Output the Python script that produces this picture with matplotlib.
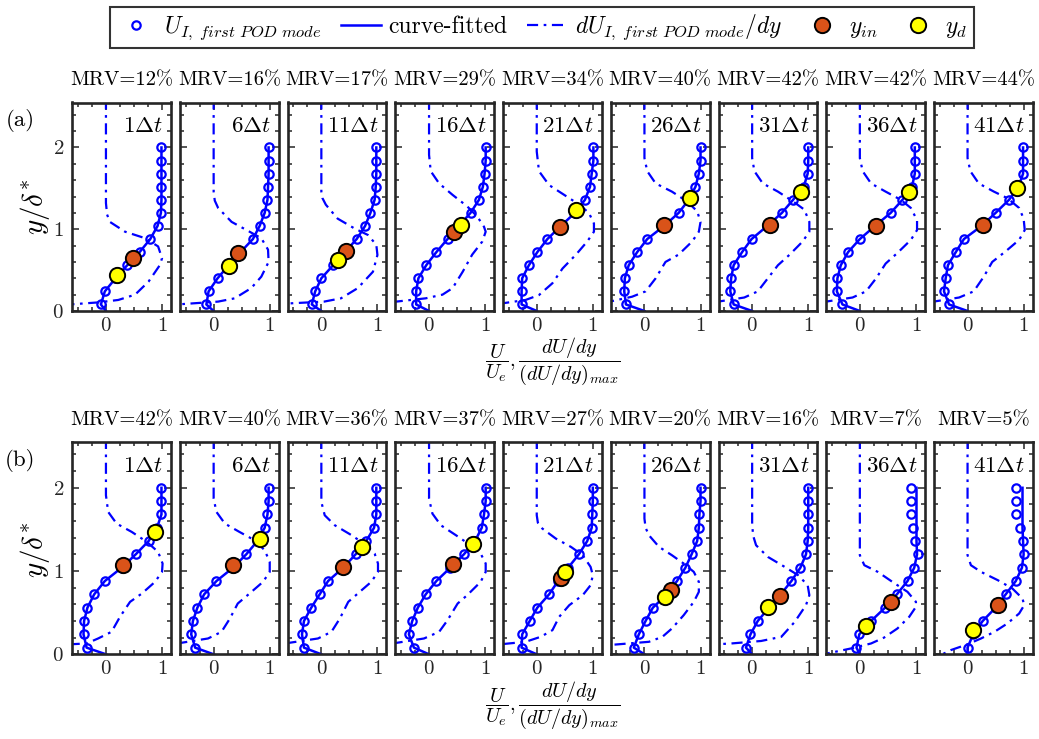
#!/usr/bin/env python3
"""
Wall-normal profiles of the first POD mode (U_I) for two sets of snapshots,
with the curve fit, its normalised gradient and the y_in / y_d markers.
"""

import matplotlib
matplotlib.use('Agg')  # Non-interactive backend
import matplotlib.pyplot as plt
from matplotlib.lines import Line2D
from matplotlib.ticker import MultipleLocator

plt.rcParams['font.family'] = 'serif'
plt.rcParams['font.serif'] = ['cmr10']
plt.rcParams['mathtext.fontset'] = 'cm'
plt.rcParams['axes.formatter.use_mathtext'] = True

# ---------------------------------------------------------------- data
STEPS = [1, 6, 11, 16, 21, 26, 31, 36, 41]
MRV_A = [12, 16, 17, 29, 34, 40, 42, 42, 44]
MRV_B = [42, 40, 36, 37, 27, 20, 16, 7, 5]

# y/delta* of the POD mode samples
Y_GRID = [0.08, 0.24, 0.40, 0.56, 0.72, 0.88, 1.04, 1.20, 1.36, 1.52, 1.68, 1.84, 2.00]

# U_I (first POD mode) at Y_GRID, one list per panel
U_A = [
    [-0.09, -0.02, 0.17, 0.38, 0.60, 0.79, 0.92, 0.98, 0.99, 0.99, 0.99, 0.99, 0.99],
    [-0.13, -0.09, 0.07, 0.27, 0.48, 0.70, 0.82, 0.91, 0.96, 0.97, 0.98, 0.98, 0.98],
    [-0.17, -0.11, 0.00, 0.21, 0.42, 0.63, 0.78, 0.875, 0.95, 0.97, 0.98, 0.98, 0.98],
    [-0.23, -0.23, -0.19, -0.05, 0.13, 0.33, 0.53, 0.74, 0.89, 0.96, 0.99, 1.01, 1.01],
    [-0.27, -0.27, -0.26, -0.14, 0.01, 0.19, 0.43, 0.68, 0.86, 0.95, 0.98, 1.01, 1.01],
    [-0.33, -0.36, -0.35, -0.28, -0.13, 0.05, 0.35, 0.61, 0.79, 0.91, 0.97, 1.00, 1.00],
    [-0.33, -0.39, -0.375, -0.33, -0.18, -0.01, 0.27, 0.53, 0.73, 0.92, 0.99, 1.00, 1.00],
    [-0.31, -0.41, -0.40, -0.34, -0.21, 0.00, 0.27, 0.55, 0.76, 0.93, 0.98, 0.98, 0.98],
    [-0.33, -0.42, -0.39, -0.35, -0.21, -0.065, 0.25, 0.50, 0.74, 0.91, 0.99, 0.99, 0.99],
]
U_B = [
    [-0.345, -0.40, -0.39, -0.33, -0.21, -0.02, 0.28, 0.53, 0.76, 0.91, 0.99, 0.99, 0.99],
    [-0.33, -0.40, -0.37, -0.29, -0.17, 0.05, 0.345, 0.58, 0.78, 0.91, 0.96, 0.98, 0.98],
    [-0.31, -0.345, -0.31, -0.18, -0.03, 0.12, 0.39, 0.61, 0.80, 0.94, 0.98, 0.98, 0.98],
    [-0.27, -0.36, -0.30, -0.20, -0.06, 0.13, 0.38, 0.62, 0.82, 0.94, 0.98, 1.01, 1.01],
    [-0.27, -0.26, -0.125, 0.01, 0.22, 0.38, 0.56, 0.75, 0.90, 0.98, 0.99, 1.00, 1.00],
    [-0.19, -0.10, 0.02, 0.15, 0.40, 0.58, 0.73, 0.84, 0.94, 0.97, 0.98, 1.00, 1.00],
    [-0.11, -0.03, 0.10, 0.30, 0.51, 0.70, 0.86, 0.96, 0.99, 1.00, 1.00, 1.00, 1.00],
    [-0.06, -0.01, 0.20, 0.45, 0.66, 0.85, 0.97, 1.03, 0.98, 0.94, 0.92, 0.92, 0.91],
    [0.00, 0.10, 0.27, 0.50, 0.68, 0.86, 0.97, 1.01, 0.99, 0.93, 0.87, 0.86, 0.86],
]

# curve fit differs from the samples only in the last two (b) panels
FIT_B_OVERRIDE = {
    7: [-0.06, -0.01, 0.20, 0.45, 0.66, 0.85, 0.97, 1.02, 1.01, 1.01, 1.01, 1.01, 1.01],
    8: [0.00, 0.10, 0.27, 0.50, 0.68, 0.86, 0.97, 1.00, 0.99, 0.98, 0.98, 0.98, 0.98],
}

# dU/dy / (dU/dy)_max, (x, y) pairs per panel
DUDY_A = [
    [(0, 2.6), (0, 1.32), (0.02, 1.18), (0.07, 1.09), (0.34, 0.97), (0.70, 0.89), (0.93, 0.79),
     (1.0, 0.645), (0.96, 0.56), (0.76, 0.36), (0.52, 0.20), (0.22, 0.135), (-0.14, 0.105), (-0.65, 0.08)],
    [(0, 2.6), (0, 1.46), (0.02, 1.35), (0.08, 1.26), (0.32, 1.09), (0.64, 0.97), (0.85, 0.89),
     (0.97, 0.75), (0.98, 0.60), (0.85, 0.42), (0.67, 0.28), (0.375, 0.155), (0.08, 0.115), (-0.65, 0.08)],
    [(0, 2.6), (0, 1.46), (0.02, 1.38), (0.08, 1.30), (0.29, 1.13), (0.59, 1.01), (0.83, 0.93),
     (0.98, 0.81), (1.0, 0.685), (0.92, 0.48), (0.65, 0.28), (0.35, 0.155), (0.05, 0.115), (-0.65, 0.09)],
    [(0, 2.6), (0, 1.91), (0.03, 1.71), (0.18, 1.56), (0.42, 1.42), (0.68, 1.28), (0.86, 1.155),
     (0.98, 1.03), (1.01, 0.97), (0.95, 0.85), (0.77, 0.69), (0.60, 0.48), (0.42, 0.28), (0.24, 0.20),
     (-0.06, 0.155), (-0.65, 0.11)],
    [(0, 2.6), (0, 1.95), (0.04, 1.71), (0.22, 1.54), (0.49, 1.42), (0.76, 1.30), (0.93, 1.20),
     (1.02, 1.07), (1.02, 0.97), (0.90, 0.85), (0.70, 0.69), (0.46, 0.52), (0.28, 0.34), (0.04, 0.195),
     (-0.20, 0.135), (-0.65, 0.09)],
    [(0, 2.6), (0, 1.87), (0.05, 1.71), (0.20, 1.56), (0.49, 1.46), (0.76, 1.34), (0.94, 1.22),
     (1.0, 1.09), (0.97, 0.97), (0.85, 0.85), (0.61, 0.69), (0.375, 0.60), (0.20, 0.40), (0.02, 0.24),
     (-0.22, 0.175), (-0.65, 0.11)],
    [(0, 2.6), (0, 1.87), (0.04, 1.71), (0.19, 1.56), (0.46, 1.46), (0.73, 1.34), (0.93, 1.24),
     (1.02, 1.09), (1.02, 0.97), (0.90, 0.85), (0.67, 0.69), (0.46, 0.56), (0.28, 0.40), (0.10, 0.24),
     (-0.14, 0.165), (-0.65, 0.11)],
    [(0, 2.6), (0, 1.87), (0.05, 1.71), (0.20, 1.56), (0.46, 1.46), (0.73, 1.36), (0.91, 1.26),
     (1.02, 1.11), (1.02, 0.99), (0.91, 0.87), (0.67, 0.71), (0.46, 0.58), (0.29, 0.40), (0.11, 0.24),
     (-0.13, 0.165), (-0.65, 0.11)],
    [(0, 2.6), (0, 1.87), (0.05, 1.71), (0.20, 1.56), (0.47, 1.46), (0.71, 1.38), (0.92, 1.26),
     (1.0, 1.13), (1.02, 0.99), (0.92, 0.87), (0.68, 0.73), (0.44, 0.60), (0.29, 0.42), (0.11, 0.24),
     (-0.15, 0.165), (-0.65, 0.11)],
]
DUDY_B = [
    [(0, 2.6), (0, 1.91), (0.04, 1.71), (0.19, 1.57), (0.46, 1.47), (0.73, 1.35), (0.93, 1.23),
     (1.01, 1.09), (1.0, 0.99), (0.875, 0.87), (0.64, 0.73), (0.43, 0.63), (0.25, 0.45), (0.10, 0.27),
     (-0.14, 0.19), (-0.345, 0.13), (-0.65, 0.12)],
    [(0, 2.6), (0, 1.87), (0.05, 1.71), (0.20, 1.57), (0.46, 1.47), (0.73, 1.37), (0.91, 1.25),
     (1.0, 1.11), (1.0, 0.99), (0.88, 0.87), (0.64, 0.73), (0.43, 0.61), (0.29, 0.43), (0.14, 0.27),
     (-0.10, 0.19), (-0.65, 0.13)],
    [(0, 2.6), (0, 1.83), (0.06, 1.67), (0.24, 1.55), (0.54, 1.43), (0.80, 1.31), (0.95, 1.21),
     (1.01, 1.09), (1.01, 0.99), (0.89, 0.87), (0.65, 0.73), (0.48, 0.63), (0.33, 0.43), (0.18, 0.27),
     (-0.06, 0.19), (-0.65, 0.13)],
    [(0, 2.6), (0, 1.87), (0.06, 1.69), (0.21, 1.55), (0.48, 1.43), (0.74, 1.31), (0.92, 1.21),
     (1.01, 1.09), (1.01, 0.99), (0.92, 0.87), (0.68, 0.71), (0.51, 0.61), (0.33, 0.41), (0.18, 0.27),
     (-0.09, 0.19), (-0.65, 0.13)],
    [(0, 2.6), (0, 1.67), (0.02, 1.58), (0.10, 1.51), (0.34, 1.39), (0.61, 1.29), (0.82, 1.19),
     (0.96, 1.05), (1.0, 0.95), (0.96, 0.83), (0.82, 0.71), (0.58, 0.59), (0.40, 0.45), (0.28, 0.29),
     (0.07, 0.21), (-0.20, 0.15), (-0.65, 0.12)],
    [(0, 2.6), (0, 1.63), (0.02, 1.52), (0.08, 1.43), (0.26, 1.29), (0.49, 1.19), (0.70, 1.09),
     (0.88, 0.99), (0.97, 0.87), (0.97, 0.75), (0.88, 0.63), (0.70, 0.47), (0.49, 0.31), (0.32, 0.21),
     (0.08, 0.15), (-0.65, 0.11)],
    [(0, 2.6), (0, 1.55), (0.02, 1.42), (0.07, 1.31), (0.28, 1.17), (0.58, 1.05), (0.82, 0.95),
     (0.99, 0.83), (1.02, 0.71), (0.96, 0.59), (0.76, 0.39), (0.52, 0.21), (0.16, 0.16),
     (-0.375, 0.13), (-0.65, 0.12)],
    [(0, 2.6), (0, 1.19), (0.08, 1.07), (0.32, 0.99), (0.58, 0.87), (0.85, 0.75), (1.0, 0.63),
     (1.0, 0.57), (0.88, 0.45), (0.67, 0.31), (0.43, 0.20), (0.20, 0.13), (-0.16, 0.07), (-0.65, 0.0)],
    [(0, 2.6), (0, 1.19), (0.06, 1.07), (0.24, 0.99), (0.54, 0.89), (0.80, 0.79), (0.98, 0.67),
     (1.01, 0.59), (0.92, 0.49), (0.71, 0.37), (0.48, 0.27), (0.24, 0.19), (0.0, 0.12),
     (-0.30, 0.05), (-0.45, 0.0)],
]

# y_in and y_d markers (x, y)
YIN_A = [(0.49, 0.645), (0.43, 0.71), (0.44, 0.73), (0.45, 0.97), (0.41, 1.03),
         (0.345, 1.05), (0.31, 1.05), (0.29, 1.045), (0.28, 1.05)]
YD_A = [(0.19, 0.44), (0.27, 0.555), (0.29, 0.625), (0.57, 1.05), (0.70, 1.24),
        (0.82, 1.38), (0.875, 1.46), (0.87, 1.46), (0.89, 1.50)]
YIN_B = [(0.31, 1.07), (0.35, 1.07), (0.39, 1.05), (0.42, 1.08), (0.43, 0.92),
         (0.47, 0.77), (0.49, 0.70), (0.55, 0.63), (0.55, 0.59)]
YD_B = [(0.87, 1.47), (0.82, 1.39), (0.73, 1.29), (0.79, 1.32), (0.50, 0.99),
        (0.36, 0.69), (0.29, 0.57), (0.11, 0.345), (0.09, 0.29)]

# ---------------------------------------------------------------- style
BLUE = '#0000FF'
ORANGE = '#D95319'
YELLOW = '#FFFF00'
FRAME = '#262626'
DASHDOT = (0, (5, 2.5, 1.2, 2.5))

W, H = 1039, 739
PANEL_LEFT0, PANEL_STEP, PANEL_W = 72.3, 107.7, 98.7


def draw_panel(ax, u, fit, dudy, yin, yd, step, first_col):
    ax.plot([0.0] + fit, [0.0] + Y_GRID, color=BLUE, lw=1.8, zorder=2)
    ax.plot([p[0] for p in dudy], [p[1] for p in dudy], color=BLUE, lw=1.6,
            linestyle=DASHDOT, zorder=2)
    ax.plot(u, Y_GRID, 'o', mfc='none', mec=BLUE, ms=6, mew=1.6, zorder=3)
    ax.plot(*yin, 'o', mfc=ORANGE, mec='k', ms=11, mew=1.4, zorder=4)
    ax.plot(*yd, 'o', mfc=YELLOW, mec='k', ms=11, mew=1.4, zorder=5)

    ax.set_xlim(-0.6, 1.16)
    ax.set_ylim(0, 2.55)
    ax.set_xticks([0, 1])
    ax.set_yticks([0, 1, 2])
    ax.xaxis.set_minor_locator(MultipleLocator(0.25))
    ax.yaxis.set_minor_locator(MultipleLocator(0.2))
    ax.tick_params(which='both', direction='in', top=True, right=True,
                   color=FRAME, width=1.1, labelsize=15, labelcolor='#262626')
    ax.tick_params(which='major', length=5)
    ax.tick_params(axis='x', which='major', pad=4)
    ax.tick_params(axis='y', which='major', pad=6)
    ax.tick_params(which='minor', length=3)
    if not first_col:
        ax.set_yticklabels([])
    for sp in ax.spines.values():
        sp.set_linewidth(1.9)
        sp.set_color(FRAME)

    ax.text(0.92, 0.885, rf'${step}\Delta t$', transform=ax.transAxes,
            ha='right', va='center', fontsize=16.5)


fig = plt.figure(figsize=(W / 100, H / 100), dpi=100)

rows = [
    # (bottom px, top px, title y px, xlabel y px, tag, tag y px, ylabel y px, data...)
    (311.0, 102.5, 80, 361, '(a)', 120, 207, U_A, {}, DUDY_A, YIN_A, YD_A, MRV_A),
    (654.3, 442.0, 420, 705, '(b)', 460, 550, U_B, FIT_B_OVERRIDE, DUDY_B, YIN_B, YD_B, MRV_B),
]

for (bot, top, title_y, xlab_y, tag, tag_y, ylab_y,
     u_all, fit_over, dudy_all, yin_all, yd_all, mrv_all) in rows:
    for k in range(9):
        left = PANEL_LEFT0 + k * PANEL_STEP
        ax = fig.add_axes([left / W, 1 - bot / H, PANEL_W / W, (bot - top) / H])
        fit = fit_over.get(k, u_all[k])
        draw_panel(ax, u_all[k], fit, dudy_all[k], yin_all[k], yd_all[k],
                   STEPS[k], k == 0)
        fig.text((left + PANEL_W / 2) / W, 1 - title_y / H, f'MRV={mrv_all[k]}%',
                 ha='center', va='center', fontsize=14.8)
    fig.text(20 / W, 1 - tag_y / H, tag, ha='center', va='center', fontsize=16.5)
    fig.text(35 / W, 1 - ylab_y / H, r'$y/\delta^{*}$', rotation=90,
             ha='center', va='center', fontsize=21)
    fig.text(553 / W, 1 - xlab_y / H, r'$\dfrac{U}{U_e},\dfrac{dU/dy}{(dU/dy)_{max}}$',
             ha='center', va='center', fontsize=14.5)

# legend across the top
handles = [
    Line2D([], [], marker='o', ls='none', mfc='none', mec=BLUE, ms=6, mew=1.6),
    Line2D([], [], color=BLUE, lw=1.8),
    Line2D([], [], color=BLUE, lw=1.6, linestyle=DASHDOT),
    Line2D([], [], marker='o', ls='none', mfc=ORANGE, mec='k', ms=11, mew=1.4),
    Line2D([], [], marker='o', ls='none', mfc=YELLOW, mec='k', ms=11, mew=1.4),
]
labels = [r'$U_{I,\ first\ POD\ mode}$', 'curve-fitted',
          r'$dU_{I,\ first\ POD\ mode}/dy$', r'$y_{in}$', r'$y_d$']
leg = fig.legend(handles, labels, loc='center', bbox_to_anchor=(542 / W, 1 - 27.5 / H),
                 ncol=5, frameon=True, fancybox=False, edgecolor='k', fontsize=17,
                 handlelength=1.7, columnspacing=0.85, handletextpad=0.3, borderpad=0.25)
leg.get_frame().set_linewidth(1.5)

fig.savefig('out.png', dpi=100)
plt.close(fig)
